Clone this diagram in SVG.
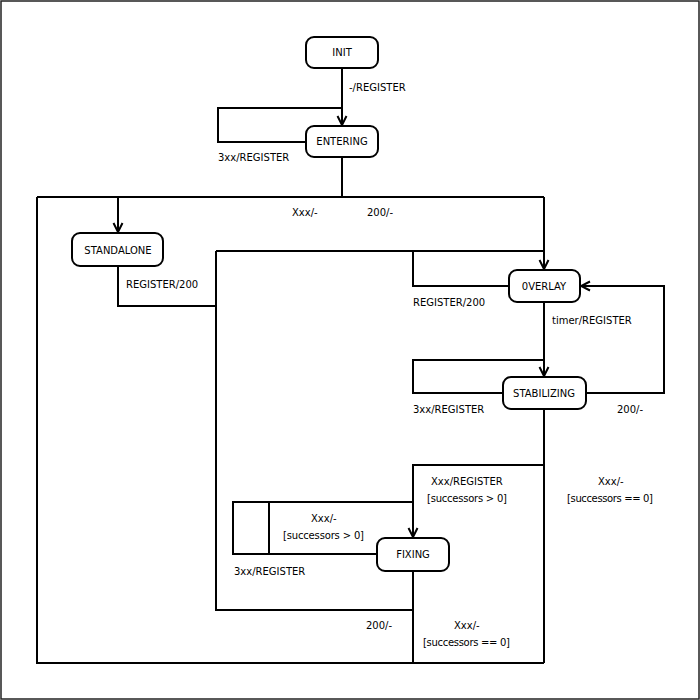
<svg xmlns="http://www.w3.org/2000/svg" width="700" height="700" viewBox="0 0 700 700">
<style>
.node rect{fill:#fff;stroke:#000;stroke-width:2}
text{font-family:"DejaVu Sans",sans-serif;font-size:10px;fill:#000}
.nt{text-anchor:middle}
.c path{fill:none;stroke:#000;stroke-width:2}
</style>
<defs>
<marker id="arr" markerUnits="userSpaceOnUse" markerWidth="14" markerHeight="14" viewBox="-11 -7 13 14" refX="0" refY="0" orient="auto">
<path d="M-9,-4.5 L0,0 L-9,4.5" fill="none" stroke="#000" stroke-width="2"/>
</marker>
</defs>
<rect x="1" y="1" width="698" height="698" fill="#fff" stroke="#222" stroke-width="1.5"/>
<g class="c" id="connectors">
<path d="M342,68 V125" marker-end="url(#arr)"/>
<path d="M306,142 H218 V108 H342"/>
<path d="M342,157 V197"/>
<path d="M37,197 H544 M37,197 V663 H544"/>
<path d="M118,197 V232" marker-end="url(#arr)"/>
<path d="M544,197 V269" marker-end="url(#arr)"/>
<path d="M118,266 V306 H216"/>
<path d="M216,251 H544 M216,251 V610 H413"/>
<path d="M509,286 H413 V251"/>
<path d="M544,302 V376" marker-end="url(#arr)"/>
<path d="M503,393 H413 V360 H544"/>
<path d="M586,393 H664 V286 H581" marker-end="url(#arr)"/>
<path d="M544,409 V663"/>
<path d="M544,465 H413 V537" marker-end="url(#arr)"/>
<path d="M377,554 H233 V502 H413 M269,502 V554"/>
<path d="M413,571 V663"/>
<text x="349" y="91">-/REGISTER</text>
<text x="218" y="161">3xx/REGISTER</text>
<text x="292" y="216">Xxx/-</text>
<text x="367" y="216">200/-</text>
<text x="126" y="288">REGISTER/200</text>
<text x="413" y="306">REGISTER/200</text>
<text x="552" y="324">timer/REGISTER</text>
<text x="413" y="413">3xx/REGISTER</text>
<text x="617" y="413">200/-</text>
<text x="431" y="485">Xxx/REGISTER</text>
<text x="427" y="502" textLength="80" lengthAdjust="spacing">[successors &gt; 0]</text>
<text x="598" y="485">Xxx/-</text>
<text x="567" y="502" textLength="86" lengthAdjust="spacing">[successors == 0]</text>
<text x="311" y="522">Xxx/-</text>
<text x="283" y="539" textLength="81" lengthAdjust="spacing">[successors &gt; 0]</text>
<text x="234" y="575">3xx/REGISTER</text>
<text x="366" y="629">200/-</text>
<text x="454" y="629">Xxx/-</text>
<text x="423" y="646" textLength="87" lengthAdjust="spacing">[successors == 0]</text>
</g>
<g class="node" id="init"><rect x="306" y="37" width="72" height="31" rx="8"/><text class="nt" x="342" y="56">INIT</text></g>
<g class="node" id="entering"><rect x="306" y="126" width="72" height="31" rx="8"/><text class="nt" x="342" y="145">ENTERING</text></g>
<g class="node" id="standalone"><rect x="72" y="233" width="91" height="33" rx="8"/><text class="nt" x="118" y="254">STANDALONE</text></g>
<g class="node" id="overlay"><rect x="509" y="270" width="71" height="32" rx="8"/><text class="nt" x="544" y="290">0VERLAY</text></g>
<g class="node" id="stabilizing"><rect x="503" y="377" width="83" height="32" rx="8"/><text class="nt" x="544" y="397">STABILIZING</text></g>
<g class="node" id="fixing"><rect x="377" y="538" width="72" height="33" rx="8"/><text class="nt" x="413" y="558">FIXING</text></g>
</svg>
